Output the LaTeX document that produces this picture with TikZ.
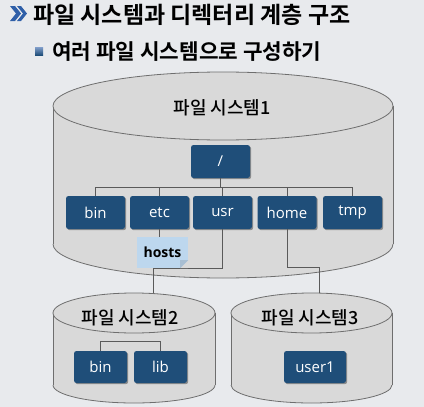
\documentclass[tikz,border=0pt]{standalone}
\usepackage{fontspec}
\setmainfont{Open Sans}
\newfontfamily\kr{Noto Sans CJK KR}
\newfontfamily\krm{Noto Sans CJK KR Medium}
\newfontfamily\krb{Noto Sans CJK KR Bold}
\usetikzlibrary{shadows,calc}
\definecolor{bgc}{HTML}{E8EAED}
\definecolor{boxc}{HTML}{1F4E79}
\definecolor{cylf}{HTML}{D9D9D9}
\definecolor{cyll}{HTML}{6E6E6E}
\definecolor{linec}{HTML}{5A5A5A}
\definecolor{notec}{HTML}{BDD7EE}
\definecolor{arrc}{HTML}{2F5FA8}
\tikzset{
  dirbox/.style={draw=none, fill=boxc, rounded corners=2.5pt, text=white,
    minimum width=59pt, minimum height=33pt, inner sep=0pt,
    font=\fontsize{15}{18}\selectfont,
    drop shadow={shadow xshift=1.2pt, shadow yshift=-1.2pt, opacity=0.35, fill=black}},
  conn/.style={draw=linec, line width=0.8pt},
  cyl/.style={fill=cylf, draw=cyll, line width=0.8pt},
  fslabel/.style={text=black, font=\krm\fontsize{18}{21}\selectfont, inner sep=0pt},
}
\begin{document}
\begin{tikzpicture}[x=1pt, y=-1pt]
\useasboundingbox (0,0) rectangle (424,407);
\fill[bgc] (0,0) rectangle (424,407);

% title arrow (double chevron)
\fill[arrc] (10,6) -- (15,6) -- (21,13.5) -- (15,21) -- (10,21) -- (16,13.5) -- cycle;
\fill[arrc] (17,6) -- (21,6) -- (27,13.5) -- (21,21) -- (17,21) -- (23,13.5) -- cycle;
\node[anchor=west, inner sep=0pt, text=black, font=\krb\fontsize{23}{27}\selectfont] (title) at (33,15) {파일 시스템과 디렉터리 계층 구조};
% subtitle bullet
\shade[top color=arrc!60, bottom color=boxc] (35,47) rectangle (43,55);
\node[anchor=west, inner sep=0pt, text=black, font=\krb\fontsize{21.3}{25}\selectfont] (subtitle) at (52,52) {여러 파일 시스템으로 구성하기};

% big cylinder
\fill[cylf] (53,106) rectangle (393,244);
\fill[cylf] (223,244) ellipse [x radius=170, y radius=34];
\begin{scope}
  \clip (40,244) rectangle (410,290);
  \draw[cyll, line width=0.8pt] (223,244) ellipse [x radius=170, y radius=34];
\end{scope}
\draw[cyll, line width=0.8pt] (53,106) -- (53,244);
\draw[cyll, line width=0.8pt] (393,106) -- (393,244);
\draw[cyl] (223,106) ellipse [x radius=170, y radius=34];
\node[fslabel] (fs1) at (222,108) {파일 시스템1};

% small cylinder 2
\fill[cylf] (53,313) rectangle (215,385);
\fill[cylf] (134,385) ellipse [x radius=81, y radius=18];
\begin{scope}
  \clip (45,385) rectangle (225,407);
  \draw[cyll, line width=0.8pt] (134,385) ellipse [x radius=81, y radius=18];
\end{scope}
\draw[cyll, line width=0.8pt] (53,313) -- (53,385);
\draw[cyll, line width=0.8pt] (215,313) -- (215,385);
\draw[cyl] (134,313) ellipse [x radius=81, y radius=20];
\node[fslabel] (fs2) at (130,318) {파일 시스템2};

% small cylinder 3
\fill[cylf] (231,313) rectangle (392,385);
\fill[cylf] (311.5,385) ellipse [x radius=80.5, y radius=18];
\begin{scope}
  \clip (225,385) rectangle (400,407);
  \draw[cyll, line width=0.8pt] (311.5,385) ellipse [x radius=80.5, y radius=18];
\end{scope}
\draw[cyll, line width=0.8pt] (231,313) -- (231,385);
\draw[cyll, line width=0.8pt] (392,313) -- (392,385);
\draw[cyl] (311.5,313) ellipse [x radius=80.5, y radius=20];
\node[fslabel] (fs3) at (310,318) {파일 시스템3};

% coordinates
\coordinate (barY) at (0,187);
\coordinate (fs2in) at (153,293);
\coordinate (fs3in) at (319,293);

% directory boxes
\node[dirbox] (root) at (220.5,161.5) {/};
\node[dirbox] (bin) at (95.5,212.5) {bin};
\node[dirbox] (etc) at (159.5,212.5) {etc};
\node[dirbox] (usr) at (222.5,212.5) {usr};
\node[dirbox] (home) at (287,212.5) {home};
\node[dirbox] (tmp) at (352.5,212.5) {tmp};

% tree connectors
\draw[conn] (root.south) -- (root.south |- barY);
\draw[conn] (bin.north) -- (bin.north |- barY) -| (tmp.north);
\draw[conn] (etc.north) -- (etc.north |- barY);
\draw[conn] (usr.north) -- (usr.north |- barY);
\draw[conn] (home.north) -- (home.north |- barY);

% mount connectors
\draw[conn] (usr.south) -- ++(0,39) -| (fs2in);
\draw[conn] (home.south) -- ++(0,38) -| (fs3in);

% hosts note
\node[fill=notec, minimum width=51pt, minimum height=31pt, inner sep=0pt,
  font=\bfseries\fontsize{14}{17}\selectfont, text=black] (hosts) at (162.5,252.5) {hosts};
\fill[cylf] ($(hosts.south east)+(-8,0)$) -- ($(hosts.south east)+(0,-8)$) -- (hosts.south east) -- cycle;
\fill[notec!50!boxc!60] ($(hosts.south east)+(-8,0)$) -- ($(hosts.south east)+(0,-8)$) -- ($(hosts.south east)+(-8,-8)$) -- cycle;
\draw[conn] (etc.south) -- (etc.south |- hosts.north);

% fs2 boxes
\node[dirbox, minimum width=53pt, minimum height=32pt] (bin2) at (100.5,367) {bin};
\node[dirbox, minimum width=53pt, minimum height=32pt] (lib) at (160.5,367) {lib};
\draw[conn] (bin2.north) -- ++(0,-9) -| (lib.north);

% fs3 box
\node[dirbox, minimum width=62pt, minimum height=32pt] (user1) at (315,367) {user1};
\end{tikzpicture}
\end{document}
